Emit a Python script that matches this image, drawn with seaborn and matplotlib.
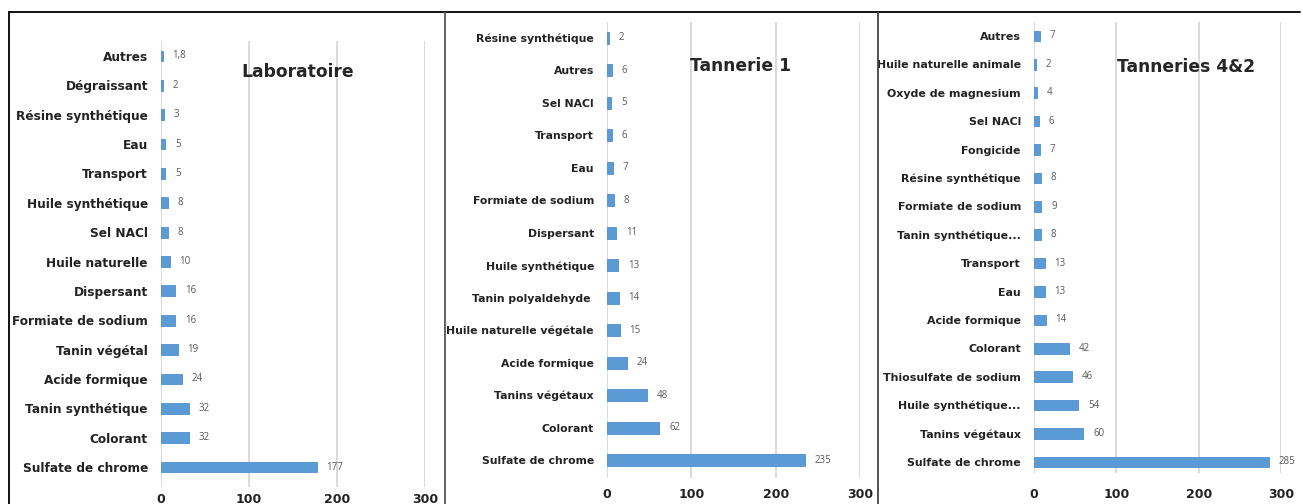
import matplotlib
matplotlib.use("Agg")
import matplotlib.pyplot as plt
from matplotlib.lines import Line2D
import seaborn as sns
import pandas as pd

# ---------------- data ----------------
lab_categories = ["Autres", "Dégraissant", "Résine synthétique", "Eau", "Transport",
                  "Huile synthétique", "Sel NACl", "Huile naturelle", "Dispersant",
                  "Formiate de sodium", "Tanin végétal", "Acide formique",
                  "Tanin synthétique", "Colorant", "Sulfate de chrome"]
lab_values = [1.8, 2, 3, 5, 5, 8, 8, 10, 16, 16, 19, 24, 32, 32, 177]

t1_categories = ["Résine synthétique", "Autres", "Sel NACl", "Transport", "Eau",
                 "Formiate de sodium", "Dispersant", "Huile synthétique",
                 "Tanin polyaldehyde ", "Huile naturelle végétale", "Acide formique",
                 "Tanins végétaux", "Colorant", "Sulfate de chrome"]
t1_values = [2, 6, 5, 6, 7, 8, 11, 13, 14, 15, 24, 48, 62, 235]

t42_categories = ["Autres", "Huile naturelle animale", "Oxyde de magnesium", "Sel NACl",
                  "Fongicide", "Résine synthétique", "Formiate de sodium",
                  "Tanin synthétique...", "Transport", "Eau", "Acide formique",
                  "Colorant", "Thiosulfate de sodium", "Huile synthétique...",
                  "Tanins végétaux", "Sulfate de chrome"]
t42_values = [7, 2, 4, 6, 7, 8, 9, 8, 13, 13, 14, 42, 46, 54, 60, 285]

titles = ["Laboratoire", "Tannerie 1", "Tanneries 4&2"]
x_ticks = [0, 100, 200, 300]

# ---------------- style ----------------
sns.set_theme(style="white")
plt.rcParams["font.family"] = ["DejaVu Sans"]

W, H = 1303, 504
fig = plt.figure(figsize=(W / 100, H / 100), dpi=100)
fig.patch.set_facecolor("white")

BAR = "#5B9BD5"
GRID = "#D9D9D9"

# (cats, vals, x0 px, x300 px, top px, bottom px, top pad, bottom pad, tick pad, label size, title x, title y, title)
panels = [
    (lab_categories, lab_values, 161, 425, 41, 487, 0.51, 0.68, 4, 8.7, 298, 72, titles[0]),
    (t1_categories, t1_values, 607, 860, 22, 478, 0.49, 0.55, 7.5, 7.8, 740, 66, titles[1]),
    (t42_categories, t42_values, 1034, 1281, 22, 473, 0.49, 0.39, 11, 7.9, 1186, 67, titles[2]),
]


def fmt(v):
    s = f"{v:g}"
    return s.replace(".", ",")


for cats, vals, x0, x300, top, bot, tpad, bpad, tickpad, lsize, tx, ty, title in panels:
    ax = fig.add_axes([x0 / W, 1 - bot / H, (x300 - x0) / W, (bot - top) / H])
    df = pd.DataFrame({"cat": cats, "val": vals})
    sns.barplot(data=df, x="val", y="cat", order=cats, orient="h", ax=ax,
                color=BAR, saturation=1, width=0.37, edgecolor="#4F8FCB", linewidth=0.6)
    n = len(cats)
    ax.set_xlim(0, 300)
    ax.set_ylim(n - 1 + bpad, -tpad)
    ax.set_xticks(x_ticks)
    ax.set_xticklabels([str(t) for t in x_ticks], fontsize=9, fontweight="bold", color="#222222")
    ax.tick_params(axis="x", length=0, pad=tickpad)
    ax.tick_params(axis="y", length=0, pad=9.4)
    for lbl in ax.get_yticklabels():
        lbl.set_fontsize(lsize)
        lbl.set_fontweight("bold")
        lbl.set_color("#222222")
    ax.set_xlabel("")
    ax.set_ylabel("")
    for s in ax.spines.values():
        s.set_visible(False)
    ax.set_facecolor("none")
    for t in x_ticks:
        ax.axvline(t, color=GRID, lw=1.4, zorder=0)
    for i, v in enumerate(vals):
        ax.annotate(fmt(v), (v, i), xytext=(7, 0), textcoords="offset points",
                    va="center", ha="left", fontsize=7, color="#595959",
                    family="Open Sans")
    fig.text(tx / W, 1 - ty / H, title, ha="center", va="center",
             fontsize=12.3, fontweight="bold", color="#262626")

# frame lines
fig.add_artist(Line2D([9 / W, 1300 / W], [1 - 12 / H, 1 - 12 / H], color="black", lw=1.3))
fig.add_artist(Line2D([9 / W, 9 / W], [0, 1 - 12 / H], color="black", lw=1.3))
fig.add_artist(Line2D([445 / W, 445 / W], [0, 1 - 12 / H], color="#555555", lw=1.3))
fig.add_artist(Line2D([878 / W, 878 / W], [0, 1 - 12 / H], color="#444444", lw=1.3))

fig.savefig("out.png", dpi=100, facecolor="white")
